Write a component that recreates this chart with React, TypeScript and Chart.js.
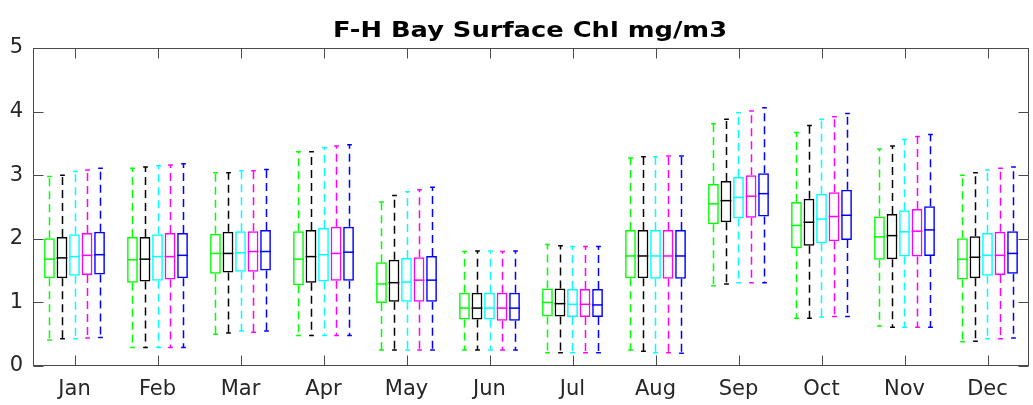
import React, { useEffect, useRef } from 'react';
import { Chart, registerables } from 'chart.js';

Chart.register(...registerables);

const titleText = 'F-H Bay Surface Chl mg/m3';
const months = ['Jan', 'Feb', 'Mar', 'Apr', 'May', 'Jun', 'Jul', 'Aug', 'Sep', 'Oct', 'Nov', 'Dec'];
const yTickValues = [0, 1, 2, 3, 4, 5];
const seriesColors = ['#00ff00', '#000000', '#00ffff', '#ff00ff', '#0000ff'];

// each entry: [min, q1, median, q3, max]
const seriesGreen = [
  [0.41, 1.38, 1.68, 2.01, 2.98], [0.29, 1.31, 1.67, 2.03, 3.11], [0.5, 1.45, 1.77, 2.08, 3.04],
  [0.48, 1.27, 1.68, 2.12, 3.37], [0.25, 0.99, 1.29, 1.63, 2.58], [0.25, 0.73, 0.91, 1.15, 1.8],
  [0.21, 0.78, 1.0, 1.22, 1.91], [0.25, 1.38, 1.73, 2.14, 3.27], [1.26, 2.23, 2.55, 2.86, 3.81],
  [0.75, 1.85, 2.21, 2.58, 3.67], [0.63, 1.67, 2.03, 2.35, 3.41], [0.38, 1.36, 1.68, 2.01, 3.0],
];
const seriesBlack = [
  [0.43, 1.38, 1.7, 2.03, 3.0], [0.29, 1.33, 1.68, 2.03, 3.13], [0.52, 1.47, 1.77, 2.11, 3.04],
  [0.48, 1.31, 1.72, 2.14, 3.37], [0.25, 1.01, 1.31, 1.67, 2.68], [0.25, 0.73, 0.91, 1.15, 1.81],
  [0.21, 0.78, 0.98, 1.22, 1.89], [0.23, 1.38, 1.73, 2.14, 3.29], [1.29, 2.26, 2.6, 2.91, 3.88],
  [0.75, 1.89, 2.26, 2.63, 3.78], [0.61, 1.68, 2.05, 2.39, 3.46], [0.39, 1.38, 1.71, 2.04, 3.04],
];
const seriesCyan = [
  [0.43, 1.42, 1.72, 2.07, 3.06], [0.29, 1.34, 1.72, 2.07, 3.15], [0.55, 1.48, 1.78, 2.12, 3.07],
  [0.48, 1.33, 1.75, 2.17, 3.43], [0.25, 1.01, 1.32, 1.7, 2.74], [0.25, 0.73, 0.91, 1.15, 1.81],
  [0.21, 0.77, 0.97, 1.21, 1.88], [0.21, 1.37, 1.73, 2.14, 3.29], [1.31, 2.32, 2.65, 2.97, 3.98],
  [0.77, 1.93, 2.31, 2.71, 3.88], [0.61, 1.72, 2.11, 2.45, 3.56], [0.43, 1.42, 1.74, 2.09, 3.08],
];
const seriesMagenta = [
  [0.44, 1.43, 1.74, 2.09, 3.08], [0.29, 1.36, 1.72, 2.09, 3.16], [0.53, 1.48, 1.8, 2.12, 3.07],
  [0.48, 1.34, 1.77, 2.19, 3.46], [0.25, 1.01, 1.35, 1.71, 2.77], [0.25, 0.71, 0.91, 1.15, 1.8],
  [0.21, 0.77, 0.97, 1.21, 1.88], [0.21, 1.37, 1.73, 2.14, 3.3], [1.31, 2.33, 2.67, 3.0, 4.01],
  [0.78, 1.96, 2.35, 2.73, 3.92], [0.61, 1.72, 2.12, 2.47, 3.61], [0.43, 1.43, 1.74, 2.11, 3.11],
];
const seriesBlue = [
  [0.45, 1.44, 1.75, 2.11, 3.11], [0.29, 1.38, 1.74, 2.09, 3.18], [0.55, 1.5, 1.8, 2.14, 3.09],
  [0.48, 1.34, 1.79, 2.19, 3.48], [0.25, 1.01, 1.35, 1.73, 2.81], [0.25, 0.71, 0.91, 1.15, 1.81],
  [0.21, 0.77, 0.96, 1.21, 1.88], [0.2, 1.37, 1.73, 2.14, 3.3], [1.31, 2.35, 2.71, 3.03, 4.06],
  [0.78, 1.98, 2.37, 2.77, 3.97], [0.61, 1.73, 2.14, 2.51, 3.64], [0.44, 1.45, 1.77, 2.12, 3.13],
];

const allSeries = [seriesGreen, seriesBlack, seriesCyan, seriesMagenta, seriesBlue];

const boxPlugin = {
  id: 'boxWhiskers',
  afterDatasetsDraw(chart: any) {
    const ctx = chart.ctx;
    const ys = chart.scales.y;
    chart.data.datasets.forEach((ds: any, di: number) => {
      const meta = chart.getDatasetMeta(di);
      const stats = allSeries[di];
      const color = seriesColors[di];
      meta.data.forEach((el: any, i: number) => {
        const [mn, q1, md, q3, mx] = stats[i];
        const x = Math.round(el.x) + 0.5;
        const w = el.width;
        const pMin = ys.getPixelForValue(mn);
        const pQ1 = ys.getPixelForValue(q1);
        const pMd = ys.getPixelForValue(md);
        const pQ3 = ys.getPixelForValue(q3);
        const pMax = ys.getPixelForValue(mx);
        ctx.save();
        ctx.strokeStyle = color;
        // whiskers
        ctx.lineWidth = 1.5;
        ctx.setLineDash([8, 5]);
        ctx.beginPath();
        ctx.moveTo(x, pQ3);
        ctx.lineTo(x, pMax);
        ctx.moveTo(x, pQ1);
        ctx.lineTo(x, pMin);
        ctx.stroke();
        ctx.setLineDash([]);
        // caps
        const cw = w * 0.22;
        ctx.lineWidth = 1.5;
        ctx.beginPath();
        ctx.moveTo(x - cw, pMax);
        ctx.lineTo(x + cw, pMax);
        ctx.moveTo(x - cw, pMin);
        ctx.lineTo(x + cw, pMin);
        ctx.stroke();
        // median
        ctx.beginPath();
        ctx.moveTo(el.x - w / 2, pMd);
        ctx.lineTo(el.x + w / 2, pMd);
        ctx.stroke();
        ctx.restore();
      });
    });
  },
  afterDraw(chart: any) {
    const ctx = chart.ctx;
    const { left, right, top, bottom } = chart.chartArea;
    const xs = chart.scales.x;
    const ys = chart.scales.y;
    ctx.save();
    ctx.strokeStyle = '#4a4a4a';
    ctx.lineWidth = 1;
    const l = Math.round(left) + 0.5;
    const r = Math.round(right) - 0.5;
    const t = Math.round(top) + 0.5;
    const b = Math.round(bottom) - 0.5;
    ctx.strokeRect(l, t, r - l, b - t);
    ctx.beginPath();
    const tl = 10;
    months.forEach((_, i) => {
      const px = Math.round(xs.getPixelForValue(i)) + 0.5;
      ctx.moveTo(px, b);
      ctx.lineTo(px, b - tl);
      ctx.moveTo(px, t);
      ctx.lineTo(px, t + tl);
    });
    yTickValues.forEach((v) => {
      const py = Math.round(ys.getPixelForValue(v)) + 0.5;
      ctx.moveTo(l, py);
      ctx.lineTo(l + tl, py);
      ctx.moveTo(r, py);
      ctx.lineTo(r - tl, py);
    });
    ctx.stroke();
    // title
    ctx.fillStyle = '#000000';
    ctx.font = 'bold 22px "DejaVu Sans"';
    ctx.textAlign = 'center';
    ctx.textBaseline = 'alphabetic';
    ctx.translate((left + right) / 2 - 1, 37);
    ctx.scale(1.17, 1);
    ctx.fillText(titleText, 0, 0);
    ctx.restore();
  },
};

export default function App() {
  const canvasRef = useRef<HTMLCanvasElement | null>(null);

  useEffect(() => {
    document.body.style.margin = '0';
    const canvas = canvasRef.current;
    if (!canvas) return;
    const chart = new Chart(canvas, {
      type: 'bar',
      data: {
        labels: months,
        datasets: allSeries.map((s, di) => ({
          label: 'S' + di,
          data: s.map((d) => [d[1], d[3]]),
          borderColor: seriesColors[di],
          backgroundColor: 'rgba(0,0,0,0)',
          borderWidth: 1.5,
          borderSkipped: false,
          categoryPercentage: 0.754,
          barPercentage: 0.86,
        })),
      },
      options: {
        responsive: false,
        animation: false,
        devicePixelRatio: 1,
        layout: { padding: { top: 48, right: 4, left: 0, bottom: 0 } },
        plugins: {
          legend: { display: false },
          tooltip: { enabled: false },
          title: { display: false },
        },
        scales: {
          x: {
            grid: { display: false, drawTicks: false },
            border: { display: false },
            ticks: {
              color: '#262626',
              font: { family: '"DejaVu Sans"', size: 21 },
              padding: 11,
              maxRotation: 0,
            },
            afterFit: (scale: any) => {
              scale.height = 39;
            },
          },
          y: {
            min: 0,
            max: 5,
            grid: { display: false, drawTicks: false },
            border: { display: false },
            ticks: {
              stepSize: 1,
              color: '#262626',
              font: { family: '"DejaVu Sans"', size: 21 },
              padding: 10,
            },
            afterFit: (scale: any) => {
              scale.width = 33;
            },
          },
        },
      },
      plugins: [boxPlugin],
    } as any);
    return () => {
      chart.destroy();
    };
  }, []);

  return (
    <div style={{ width: 1033, height: 405 }}>
      <canvas ref={canvasRef} width={1033} height={405} />
    </div>
  );
}
